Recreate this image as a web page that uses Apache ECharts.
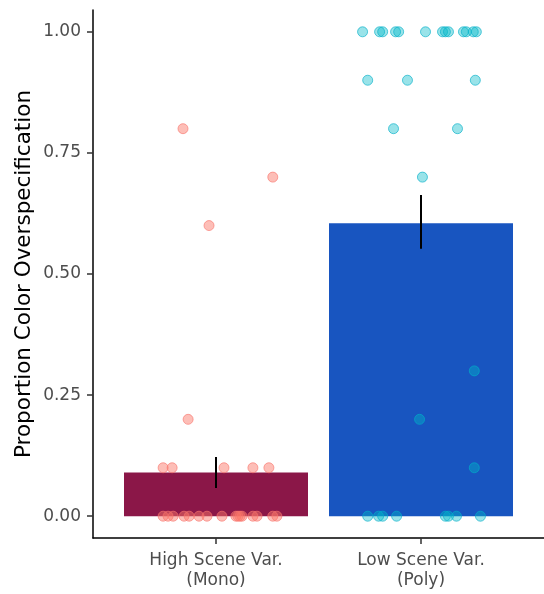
<!DOCTYPE html>
<html>
<head>
<meta charset="utf-8">
<script src="https://cdn.jsdelivr.net/npm/echarts@6/dist/echarts.min.js"></script>
<style>
  html, body { margin: 0; padding: 0; background: #fff; }
  #chart { width: 544px; height: 594px; }
</style>
</head>
<body>
<div id="chart"></div>
<script>
// categories and summary values
var categories = ['High Scene Var.\n(Mono)', 'Low Scene Var.\n(Poly)'];
var means = [0.090, 0.605];
var errLow = [0.058, 0.552];
var errHigh = [0.122, 0.663];
var yTicks = [0, 0.25, 0.5, 0.75, 1];

// jittered points: [offset from category centre, value]
var monoPoints = [
  [-0.161, 0.8], [0.277, 0.7], [-0.034, 0.6], [-0.136, 0.2],
  [-0.258, 0.1], [-0.214, 0.1], [0.039, 0.1], [0.180, 0.1], [0.258, 0.1],
  [-0.258, 0], [-0.234, 0], [-0.209, 0], [-0.156, 0], [-0.131, 0], [-0.083, 0],
  [-0.044, 0], [0.029, 0], [0.097, 0], [0.107, 0], [0.117, 0], [0.127, 0],
  [0.180, 0], [0.200, 0], [0.277, 0], [0.297, 0]
];
var polyPoints = [
  [-0.285, 1], [-0.202, 1], [-0.187, 1], [-0.124, 1], [-0.109, 1], [0.022, 1],
  [0.105, 1], [0.119, 1], [0.134, 1], [0.207, 1], [0.221, 1], [0.255, 1], [0.270, 1],
  [-0.260, 0.9], [-0.066, 0.9], [0.265, 0.9],
  [-0.134, 0.8], [0.178, 0.8],
  [0.007, 0.7],
  [0.260, 0.3], [-0.007, 0.2], [0.260, 0.1],
  [-0.260, 0], [-0.207, 0], [-0.187, 0], [-0.119, 0], [0.119, 0], [0.134, 0],
  [0.173, 0], [0.290, 0]
];

var barColors = ['#8b1748', '#1855c0'];
var font = 'DejaVu Sans, sans-serif';

var myChart = echarts.init(document.getElementById('chart'));

function shift(points, centre) {
  return points.map(function (p) { return [centre + p[0], p[1]]; });
}

myChart.setOption({
  animation: false,
  grid: { left: 93, right: 0, top: 10, bottom: 56 },
  xAxis: {
    type: 'value',
    min: 0.4,
    max: 2.6,
    splitLine: { show: false },
    axisLine: { show: true, onZero: false, lineStyle: { color: '#000', width: 1.5 } },
    axisTick: { show: true, customValues: [1, 2], length: 6, lineStyle: { color: '#333', width: 1.5 } },
    axisLabel: {
      customValues: [1, 2],
      formatter: function (v) { return categories[Math.round(v) - 1]; },
      color: '#4d4d4d',
      fontSize: 17,
      fontFamily: font,
      lineHeight: 20,
      margin: 13
    }
  },
  yAxis: {
    type: 'value',
    min: -0.045,
    max: 1.045,
    name: 'Proportion Color Overspecification',
    nameLocation: 'middle',
    nameGap: 58,
    nameMoveOverlap: false,
    nameTextStyle: { color: '#000', fontSize: 21.5, fontFamily: font },
    splitLine: { show: false },
    axisLine: { show: true, lineStyle: { color: '#000', width: 1.5 } },
    axisTick: { show: true, customValues: yTicks, length: 6, lineStyle: { color: '#333', width: 1.5 } },
    axisLabel: {
      customValues: yTicks,
      formatter: function (v) { return v.toFixed(2); },
      color: '#4d4d4d',
      fontSize: 17,
      fontFamily: font,
      margin: 12
    }
  },
  series: [
    {
      type: 'bar',
      barWidth: 184,
      z: 1,
      data: means.map(function (m, i) {
        return { value: [i + 1, m], itemStyle: { color: barColors[i] } };
      })
    },
    {
      type: 'scatter',
      symbolSize: 10,
      z: 2,
      itemStyle: { color: 'rgba(250,120,105,0.6)', borderColor: 'rgba(248,118,109,0.8)', borderWidth: 1 },
      data: shift(monoPoints, 1)
    },
    {
      type: 'scatter',
      symbolSize: 10,
      z: 2,
      itemStyle: { color: 'rgba(0,185,200,0.5)', borderColor: 'rgba(0,175,200,0.8)', borderWidth: 1 },
      data: shift(polyPoints, 2)
    },
    {
      type: 'custom',
      z: 3,
      data: errLow.map(function (lo, i) { return [i + 1, lo, errHigh[i]]; }),
      renderItem: function (params, api) {
        var a = api.coord([api.value(0), api.value(1)]);
        var b = api.coord([api.value(0), api.value(2)]);
        return {
          type: 'line',
          shape: { x1: a[0], y1: a[1], x2: b[0], y2: b[1] },
          style: { stroke: '#000', lineWidth: 2 }
        };
      }
    }
  ]
});
</script>
</body>
</html>
